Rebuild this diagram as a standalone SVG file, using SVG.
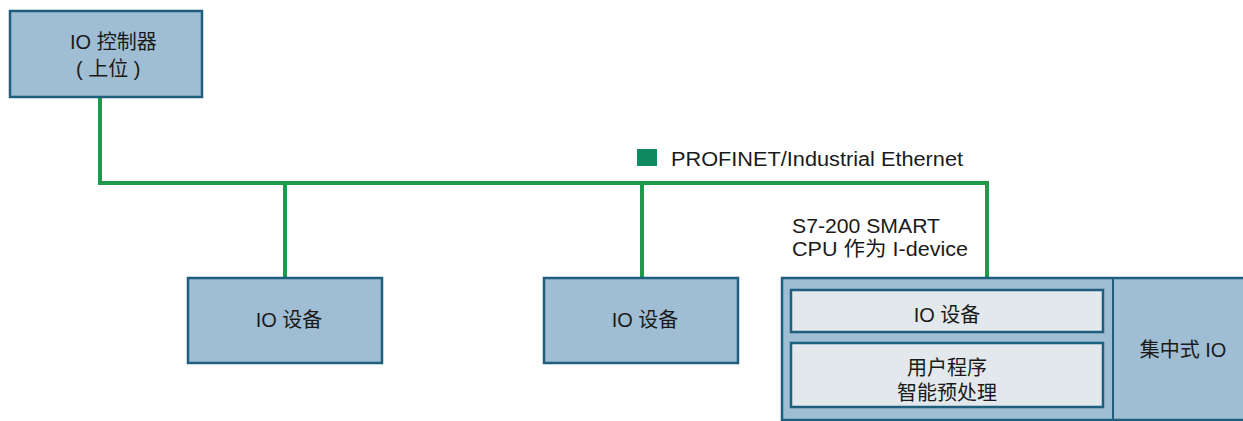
<svg xmlns="http://www.w3.org/2000/svg" width="1243" height="421" viewBox="0 0 1243 421">
<style>
.box{fill:#9fbdd3;stroke:#1f5f7e;stroke-width:2.5}
.inner{fill:#e2e8ec;stroke:#1f5f7e;stroke-width:2.5}
.net{fill:none;stroke:#1e9a4a;stroke-width:4}
text{font-family:"Liberation Sans","Noto Sans CJK SC",sans-serif;font-size:20px;fill:#1a1a1a}
.c{text-anchor:middle}
</style>
<rect width="1243" height="421" fill="#ffffff"/>
<g id="connectors">
<polyline class="net" points="100,97 100,183 987,183 987,278"/>
<line class="net" x1="285" y1="183" x2="285" y2="278"/>
<line class="net" x1="642" y1="183" x2="642" y2="278"/>
</g>
<g id="legend">
<rect x="637" y="149" width="20" height="17" fill="#0f8a60"/>
<text x="671" y="166" textLength="292" lengthAdjust="spacingAndGlyphs">PROFINET/Industrial Ethernet</text>
</g>
<g id="io-controller">
<rect class="box" x="10" y="11" width="192" height="86"/>
<text x="70" y="49">IO 控制器</text>
<text x="76" y="76">( 上位 )</text>
</g>
<g id="io-device-1">
<rect class="box" x="188" y="278" width="194" height="85"/>
<text class="c" x="289" y="327">IO 设备</text>
</g>
<g id="io-device-2">
<rect class="box" x="544" y="278" width="194" height="85"/>
<text class="c" x="645" y="327">IO 设备</text>
</g>
<g id="i-device-label">
<text x="792" y="233" textLength="148" lengthAdjust="spacingAndGlyphs">S7-200 SMART</text>
<text x="792" y="256" textLength="176" lengthAdjust="spacingAndGlyphs">CPU 作为 I-device</text>
</g>
<g id="i-device">
<rect class="box" x="782" y="278" width="470" height="142"/>
<line x1="1113" y1="278" x2="1113" y2="420" stroke="#1f5f7e" stroke-width="2"/>
</g>
<g id="inner-io-device">
<rect class="inner" x="791" y="290" width="312" height="42"/>
<text class="c" x="947" y="322">IO 设备</text>
</g>
<g id="user-program">
<rect class="inner" x="791" y="343" width="312" height="64"/>
<text class="c" x="947" y="375">用户程序</text>
<text class="c" x="947" y="400">智能预处理</text>
</g>
<g id="central-io">
<text class="c" x="1183" y="357">集中式 IO</text>
</g>
</svg>
